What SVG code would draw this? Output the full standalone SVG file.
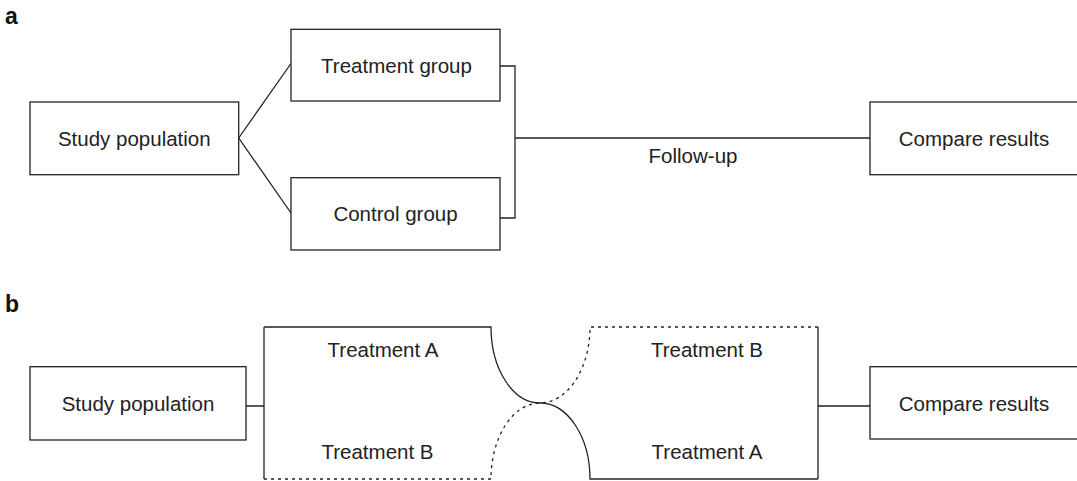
<svg xmlns="http://www.w3.org/2000/svg" width="1077" height="481" viewBox="0 0 1077 481">
  <style>
    .box { fill: #ffffff; stroke: #222222; stroke-width: 1.3; }
    .line { fill: none; stroke: #222222; stroke-width: 1.3; }
    .dot { fill: none; stroke: #222222; stroke-width: 1.3; stroke-dasharray: 3 4; }
    .lbl { font-family: "Liberation Sans", Arial, sans-serif; font-size: 20.5px; fill: #222222; text-anchor: middle; }
    .panel { font-family: "Liberation Sans", Arial, sans-serif; font-size: 23px; font-weight: bold; fill: #111111; }
  </style>

  <rect width="1077" height="481" fill="#ffffff"/>

  <!-- Panel a: parallel-group design -->
  <text class="panel" x="5" y="24">a</text>

  <g id="a-connectors">
    <path class="line" d="M238.7,138 L291,63.5 M238.7,138 L291,213"/>
    <path class="line" d="M500,66 H515 V218 H500 M515,138 H870"/>
  </g>

  <g id="a-study-population">
    <rect class="box" x="30" y="102" width="208.7" height="72.7"/>
    <text class="lbl" x="134.3" y="145.5">Study population</text>
  </g>

  <g id="a-treatment-group">
    <rect class="box" x="291" y="29.3" width="209" height="71.7"/>
    <text class="lbl" x="396.5" y="72.8">Treatment group</text>
  </g>

  <g id="a-control-group">
    <rect class="box" x="291" y="177.7" width="209" height="72.3"/>
    <text class="lbl" x="395.5" y="220.5">Control group</text>
  </g>

  <g id="a-follow-up">
    <text class="lbl" x="693" y="163">Follow-up</text>
  </g>

  <g id="a-compare-results">
    <rect class="box" x="870" y="102" width="209" height="72.7"/>
    <text class="lbl" x="974" y="145.5">Compare results</text>
  </g>

  <!-- Panel b: crossover design -->
  <text class="panel" x="5" y="312">b</text>

  <g id="b-connectors">
    <path class="line" d="M246,406 H264 M818,406 H870"/>
  </g>

  <g id="b-study-population">
    <rect class="box" x="30" y="366.7" width="216" height="73.3"/>
    <text class="lbl" x="138" y="410.5">Study population</text>
  </g>

  <g id="b-crossover">
    <!-- outer sides -->
    <path class="line" d="M264,327 V479 M818,327 V479"/>
    <!-- treatment A course: upper left, crossing to lower right -->
    <path class="line" d="M264,327 H491 A49,76 0 0 0 540,403 A50,76 0 0 1 590,479 H818"/>
    <!-- treatment B course: lower left, crossing to upper right -->
    <path class="dot" d="M264,479 H491 A49,76 0 0 1 540,403 A50,76 0 0 0 590,327 H818"/>
    <text class="lbl" x="383" y="356.7">Treatment A</text>
    <text class="lbl" x="377.5" y="458.5">Treatment B</text>
    <text class="lbl" x="707" y="356.7">Treatment B</text>
    <text class="lbl" x="707" y="459">Treatment A</text>
  </g>

  <g id="b-compare-results">
    <rect class="box" x="870" y="366.7" width="209" height="72.3"/>
    <text class="lbl" x="974" y="410.5">Compare results</text>
  </g>
</svg>
